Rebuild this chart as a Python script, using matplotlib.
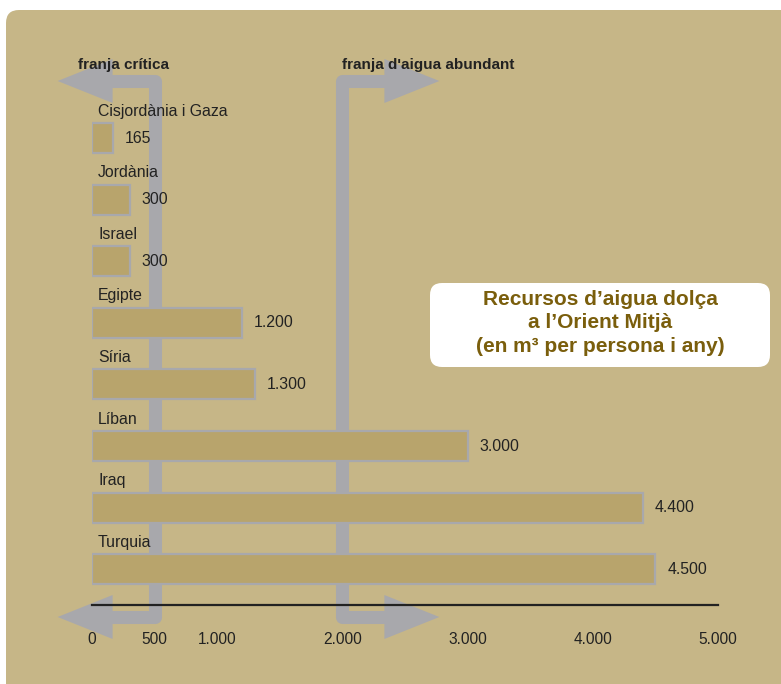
import matplotlib.pyplot as plt
from matplotlib.patches import FancyBboxPatch, Polygon

# dades: recursos d'aigua dolça (m3 per persona i any)
countries = ['Cisjordània i Gaza', 'Jordània', 'Israel', 'Egipte',
             'Síria', 'Líban', 'Iraq', 'Turquia']
values = [165, 300, 300, 1200, 1300, 3000, 4400, 4500]
ticks = [0, 500, 1000, 2000, 3000, 4000, 5000]
thresholds = [500, 2000]
threshold_labels = ['franja crítica', "franja d'aigua abundant"]
title = "Recursos d\u2019aigua dolça\na l\u2019Orient Mitjà\n(en m³ per persona i any)"

BG = '#c6b687'
BAR = '#b8a46c'
GREY = '#a8a8ac'
TXT = '#222222'
TITLE_C = '#7a5e0c'

plt.rcParams['font.family'] = ['Liberation Sans', 'DejaVu Sans']

fig = plt.figure(figsize=(7.81, 6.84), dpi=100)
fig.patch.set_facecolor('white')
fig.patches.append(FancyBboxPatch((0.06, -0.5), 8.0, 7.24,
                                  boxstyle='round,pad=0,rounding_size=0.13',
                                  transform=fig.dpi_scale_trans,
                                  facecolor=BG, edgecolor='none', zorder=-1))

# axes: x 0..5000 between 92px and 718px, y in pixel rows (top 40, bottom 605)
ax = fig.add_axes([92 / 781, (684 - 605) / 684, 626 / 781, 565 / 684])
ax.set_facecolor('none')
ax.set_xlim(0, 5000)
ax.set_ylim(605, 40)
ppu = 626 / 5000  # px per unit

rows = [138 + 61.6 * i for i in range(len(countries))]

ax.barh(rows, values, height=30, color=BAR, edgecolor=GREY, linewidth=1.6, zorder=3)

# fletxes grises dels llindars
top_y, bot_y = 81, 617
for t, d, lab in zip(thresholds, [-1, 1], threshold_labels):
    base = t + d * 42 / ppu
    tip = t + d * 97 / ppu
    ext = base + d * 4 / ppu
    ax.plot([ext, t, t, ext], [top_y, top_y, bot_y, bot_y],
            color=GREY, lw=9.4, solid_joinstyle='round', solid_capstyle='butt',
            zorder=1, clip_on=False)
    for yy in (top_y, bot_y):
        ax.add_patch(Polygon([(base, yy - 22), (tip, yy), (base, yy + 22)],
                             closed=True, facecolor=GREY, edgecolor='none',
                             zorder=1, clip_on=False))
    if d < 0:
        ax.annotate(lab, (t, top_y), xytext=(14, 16), textcoords='offset pixels',
                    ha='right', va='center', fontsize=11, fontweight='bold',
                    color=TXT, annotation_clip=False)
    else:
        ax.annotate(lab, (t, top_y), xytext=(0, 16), textcoords='offset pixels',
                    ha='left', va='center', fontsize=11, fontweight='bold',
                    color=TXT, annotation_clip=False)

for name, v, y in zip(countries, values, rows):
    ax.annotate(name, (0, y), xytext=(6, 27), textcoords='offset pixels',
                ha='left', va='center', fontsize=11.4, color=TXT, zorder=5)
    ax.annotate(f"{v:,}".replace(',', '.'), (v, y), xytext=(12, 0),
                textcoords='offset pixels', ha='left', va='center',
                fontsize=11.4, color=TXT, zorder=5)

ax.set_xticks(ticks)
ax.set_xticklabels([f"{t:,}".replace(',', '.') for t in ticks], fontsize=11.2, color=TXT)
ax.tick_params(axis='x', length=0, pad=19.5)
ax.set_yticks([])
for s in ('left', 'top', 'right'):
    ax.spines[s].set_visible(False)
ax.spines['bottom'].set_color('#222222')
ax.spines['bottom'].set_linewidth(1.6)
ax.spines['bottom'].set_zorder(4)

# requadre del títol
fig.patches.append(FancyBboxPatch((4.30, 3.17), 3.40, 0.84,
                                  boxstyle='round,pad=0,rounding_size=0.12',
                                  transform=fig.dpi_scale_trans,
                                  facecolor='white', edgecolor='none', zorder=5))
fig.text(6.0, 3.61, title, transform=fig.dpi_scale_trans, ha='center', va='center',
         fontsize=15, fontweight='bold', color=TITLE_C, linespacing=1.3, zorder=6)

fig.savefig('out.png', dpi=100)
